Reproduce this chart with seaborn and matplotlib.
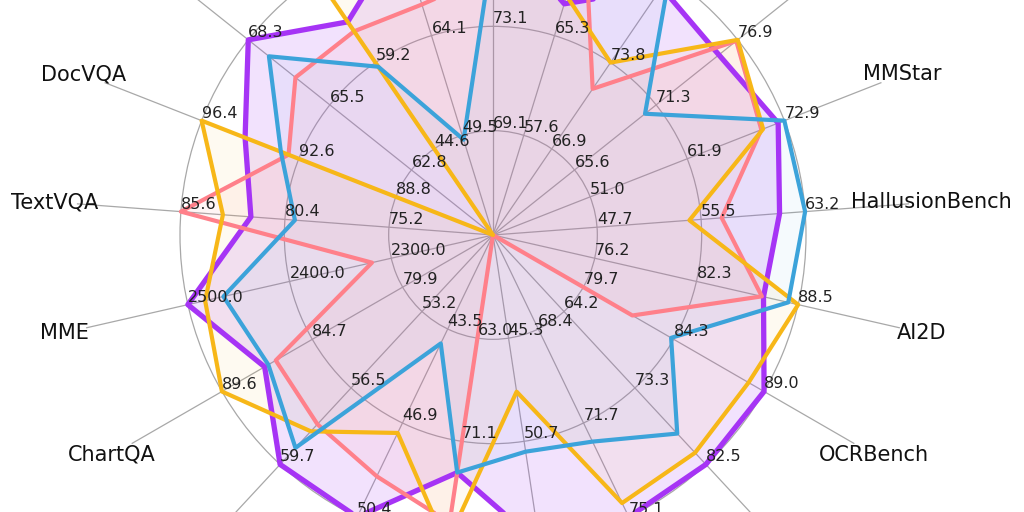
import numpy as np
import pandas as pd
import matplotlib
matplotlib.use("Agg")
import matplotlib.pyplot as plt
import seaborn as sns

# ----------------------------
# Data (clockwise from the top spoke)
# ----------------------------
categories = ["MMBench", "MMMU", "MMVet", "RealWorldQA", "MMStar", "HallusionBench",
              "AI2D", "OCRBench", "InfoVQA", "SEED-2-Plus", "MathVerse", "MathVista",
              "MMMU-Pro", "CharXiv", "ChartQA", "MME", "TextVQA", "DocVQA",
              "BLINK", "MathVision", "Video-MME"]

# lower end of each spoke (value at the centre)
axis_min = [65, 50, 60, 60, 40, 40, 70, 75, 55, 65, 40, 55, 40, 50, 75, 2200, 70, 85, 60, 30, 35]

# None = no score (drawn at the centre)
model_purple = [77.2, 67.7, 79.8, 75.6, 72.2, 61.3, 86.4, 89.0, 82.5, 75.1, 56.0, 73.5,
                50.4, 59.7, 87.3, 2500, 82.1, 94.7, 68.3, 66.1, 78.6]
model_blue = [76.3, 70.0, 80.7, 70.5, 72.9, 63.2, 87.9, 84.2, 78.8, 72.4, 51.2, 73.5,
              44.0, 59.0, 87.1, 2465, 79.9, 93.3, 67.6, 58.5, 48.9]
model_yellow = [75.4, 68.3, 73.8, 76.9, 70.5, 54.6, 88.5, 88.2, 81.1, 74.6, 48.1, 79.1,
                47.3, 58.3, 89.6, 2483, 83.5, 96.4, None, 73.8, 72.1]
model_pink = [75.2, 72.9, 71.7, 76.8, 70.3, 57.0, 86.3, 82.2, None, None, None, 77.4,
              48.9, 58.0, 86.7, 2319, 85.6, 93.0, 66.7, 64.5, 68.6]

models = {
    "purple": model_purple,
    "pink": model_pink,
    "yellow": model_yellow,
    "blue": model_blue,
}
colors = {"purple": "#a634f5", "pink": "#ff808a", "yellow": "#f7b718", "blue": "#3ca3da"}
fill_alpha = {"purple": 0.14, "pink": 0.08, "yellow": 0.06, "blue": 0.05}
line_w = {"purple": 3.8, "pink": 3.0, "yellow": 3.0, "blue": 3.0}


def main():
    sns.set_theme(style="white")
    plt.rcParams["font.family"] = ["DejaVu Sans"]

    n = len(categories)
    theta = np.arange(n) * 2 * np.pi / n

    # each spoke has its own scale: axis_min -> 0, best score -> 1
    axis_max = []
    for i in range(n):
        vals = [m[i] for m in models.values() if m[i] is not None]
        axis_max.append(max(vals))

    rows = []
    for name, vals in models.items():
        for i in range(n + 1):
            j = i % n
            v = vals[j]
            r = 0.0 if v is None else (v - axis_min[j]) / (axis_max[j] - axis_min[j])
            rows.append({"model": name, "theta": theta[j] if i < n else 2 * np.pi, "r": r})
    df = pd.DataFrame(rows)

    fig = plt.figure(figsize=(10.24, 5.12), dpi=100)
    R = 313.0  # pixel radius of the outer ring
    rmax = 4 / 3
    size = 2 * R * rmax
    cx, cy = 493, 235
    ax = fig.add_axes([(cx - size / 2) / 1024, (512 - cy - size / 2) / 512,
                       size / 1024, size / 512], projection="polar")
    ax.set_theta_offset(np.pi / 2)
    ax.set_theta_direction(-1)

    for name in models:
        sub = df[df["model"] == name]
        ax.fill(sub["theta"], sub["r"], color=colors[name], alpha=fill_alpha[name], zorder=2)
    for k, name in enumerate(models):
        sub = df[df["model"] == name]
        sns.lineplot(data=sub, x="theta", y="r", sort=False, estimator=None, ax=ax,
                     color=colors[name], linewidth=line_w[name], legend=False, zorder=3 + k)

    ax.set_ylim(0, rmax)
    ax.set_xticks(theta)
    ax.set_xticklabels([])
    ax.set_yticks([1 / 3, 2 / 3, 1.0])
    ax.set_yticklabels([])
    ax.set_xlabel("")
    ax.set_ylabel("")
    ax.grid(True, color="#a8a8a8", linewidth=0.9)
    ax.spines["polar"].set_visible(False)

    # per-spoke tick values
    for i in range(n):
        step = (axis_max[i] - axis_min[i]) / 3
        for k in range(1, 4):
            ax.text(theta[i], k / 3, f"{axis_min[i] + k * step:.1f}", ha="left", va="bottom",
                    fontsize=11.5, color="#222222", zorder=10)
        ax.text(theta[i], 1.405, categories[i], ha="center", va="center",
                fontsize=15, color="#111111")

    fig.savefig("out.png", dpi=100)


if __name__ == "__main__":
    main()
